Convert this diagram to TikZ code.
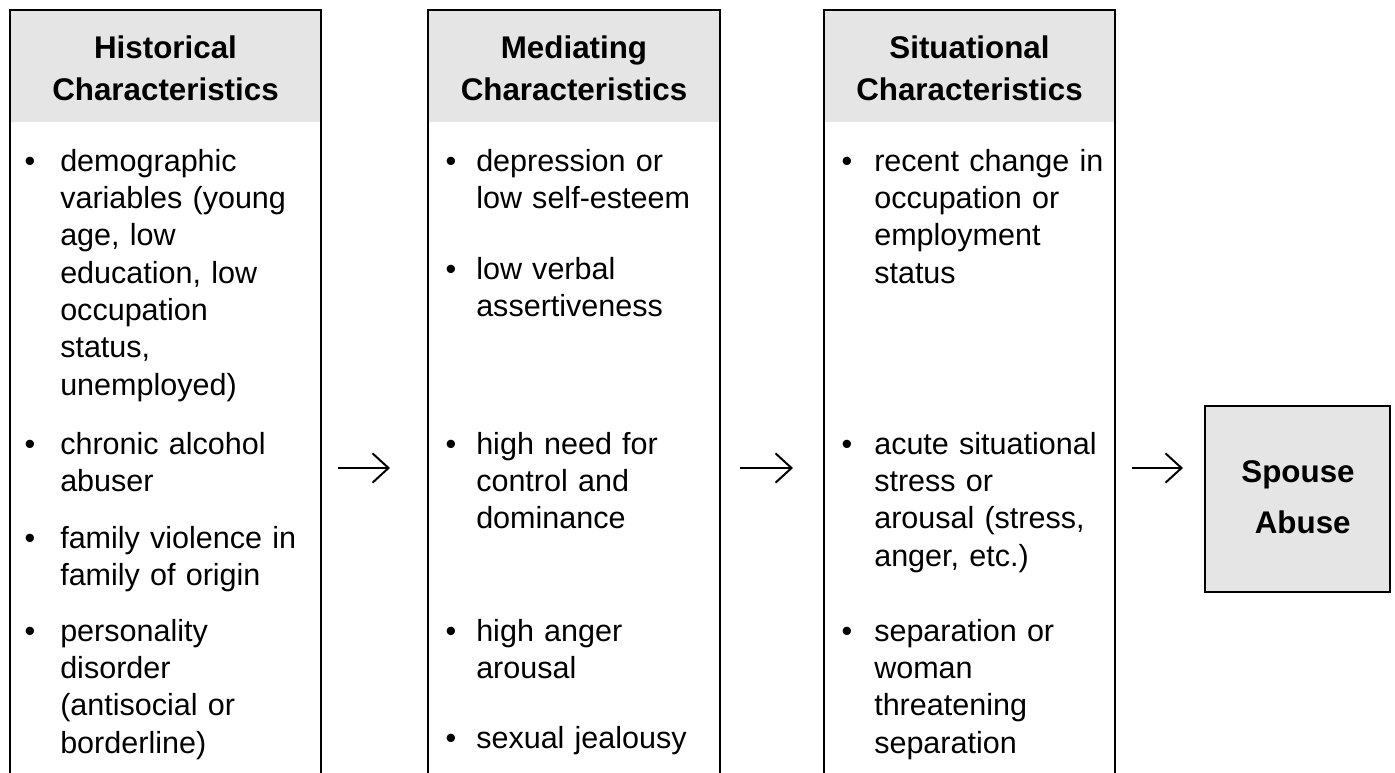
\documentclass[tikz,border=0pt]{standalone}
\usepackage{fontspec}
\setmainfont{Liberation Sans}
\usetikzlibrary{arrows.meta}
\definecolor{hdrgrey}{HTML}{E5E5E5}
\begin{document}
\begin{tikzpicture}[x=0.75pt,y=-0.75pt,
  colframe/.style={draw=black, line width=1.5pt, rectangle, inner sep=0pt, outer sep=0pt, anchor=north west},
  hdrfill/.style={fill=hdrgrey, rectangle, inner sep=0pt, outer sep=0pt, anchor=north west},
  hdrtext/.style={anchor=base, align=center, inner sep=0pt, font=\fontsize{23.5pt}{31.5pt}\selectfont\bfseries},
  itemtext/.style={anchor=base west, align=left, text width=200pt, inner sep=0pt, font=\fontsize{22.9pt}{28pt}\selectfont},
  bul/.style={anchor=base, inner sep=0pt, font=\fontsize{22.9pt}{28pt}\selectfont},
  flow/.style={draw=black, line width=1.5pt, -{Straight Barb[length=12pt,width=22pt]}},
]
\useasboundingbox (0,0) rectangle (1395,772);
\clip (0,0) rectangle (1395,772);

% column headers (grey) and frames
\node[hdrfill, minimum width=311*0.75pt, minimum height=112*0.75pt] (histh) at (10,10) {};
\node[hdrfill, minimum width=292*0.75pt, minimum height=112*0.75pt] (medh) at (428,10) {};
\node[hdrfill, minimum width=291*0.75pt, minimum height=112*0.75pt] (sith) at (824,10) {};

\node[colframe, minimum width=311*0.75pt, minimum height=820*0.75pt] (hist) at (10,10) {};
\node[colframe, minimum width=292*0.75pt, minimum height=820*0.75pt] (med) at (428,10) {};
\node[colframe, minimum width=291*0.75pt, minimum height=820*0.75pt] (sit) at (824,10) {};

% header texts (anchor base = baseline of the last line)
\node[hdrtext] (histt) at (165.5,100) {Historical\\Characteristics};
\node[hdrtext] (medt) at (574,100) {Mediating\\Characteristics};
\node[hdrtext] (sitt) at (969.5,100) {Situational\\Characteristics};

% Historical items
\node[bul] (b11) at (30,171) {\textbullet};
\node[itemtext] (h1) at (60,171) {demographic\\variables (young\\age, low\\education, low\\occupation\\status,\\unemployed)};
\node[bul] (b12) at (30,454) {\textbullet};
\node[itemtext] (h2) at (60,454) {chronic alcohol\\abuser};
\node[bul] (b13) at (30,548) {\textbullet};
\node[itemtext] (h3) at (60,548) {family violence in\\family of origin};
\node[bul] (b14) at (30,641) {\textbullet};
\node[itemtext] (h4) at (60,641) {personality\\disorder\\(antisocial or\\borderline)};

% Mediating items
\node[bul] (b21) at (451,171) {\textbullet};
\node[itemtext] (m1) at (476,171) {depression or\\low self-esteem};
\node[bul] (b22) at (451,279) {\textbullet};
\node[itemtext] (m2) at (476,279) {low verbal\\assertiveness};
\node[bul] (b23) at (451,454) {\textbullet};
\node[itemtext] (m3) at (476,454) {high need for\\control and\\dominance};
\node[bul] (b24) at (451,641) {\textbullet};
\node[itemtext] (m4) at (476,641) {high anger\\arousal};
\node[bul] (b25) at (451,748) {\textbullet};
\node[itemtext] (m5) at (476,748) {sexual jealousy};

% Situational items
\node[bul] (b31) at (847,171) {\textbullet};
\node[itemtext] (s1) at (874,171) {recent change in\\occupation or\\employment\\status};
\node[bul] (b32) at (847,454) {\textbullet};
\node[itemtext] (s2) at (874,454) {acute situational\\stress or\\arousal (stress,\\anger, etc.)};
\node[bul] (b33) at (847,641) {\textbullet};
\node[itemtext] (s3) at (874,641) {separation or\\woman\\threatening\\separation};

% outcome box
\node[colframe, fill=hdrgrey, minimum width=185*0.75pt, minimum height=186*0.75pt] (abuse) at (1205,406) {};
\node[anchor=base, align=center, inner sep=0pt, font=\fontsize{23.5pt}{38pt}\selectfont\bfseries] (abuset) at (1298,533) {Spouse\\\hspace*{0.3em}Abuse};

% arrows
\coordinate (row) at (0,468);
\draw[flow, shorten <=17*0.75pt, shorten >=38*0.75pt] (hist.east |- row) -- (med.west |- row);
\draw[flow, shorten <=20*0.75pt, shorten >=31*0.75pt] (med.east |- row) -- (sit.west |- row);
\draw[flow, shorten <=17*0.75pt, shorten >=22*0.75pt] (sit.east |- row) -- (abuse.west |- row);
\end{tikzpicture}
\end{document}
